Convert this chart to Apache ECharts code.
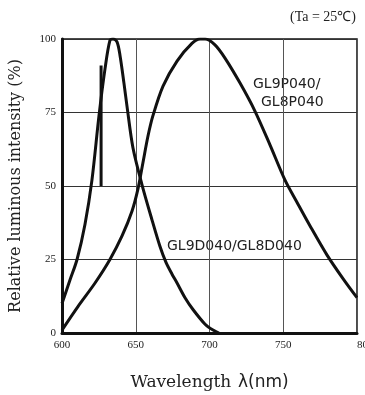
<!DOCTYPE html>
<html>
<head>
<meta charset="utf-8">
<script src="https://cdn.jsdelivr.net/npm/echarts@6/dist/echarts.min.js"></script>
<style>html,body{margin:0;padding:0;background:#fff;overflow:hidden;}#c{width:365px;height:395px;}</style>
</head>
<body>
<div id="c"></div>
<script>
// Wavelength ticks
var xTicks = [600, 650, 700, 750, 800];
var yTicks = [0, 25, 50, 75, 100];
// GL9D040/GL8D040 (narrow peak)
var wlD  = [600, 605.4, 610.2, 615.6, 620.3, 625.1, 629.2, 632.5, 634.6, 637.3, 639.3, 642, 644.1, 648.1, 654.2, 661, 666.4, 670.5, 674.6, 678, 683.4, 688.8, 697, 702.4, 706.4];
var valD = [10, 18, 25, 37, 52, 74, 90, 99.5, 100, 99, 94.5, 85, 77, 63, 50.5, 38.5, 29.5, 24, 20, 17, 12, 8, 3, 1, 0];
// GL9P040/GL8P040 (wide peak)
var wlP  = [600, 610.8, 622.4, 632.5, 640.7, 647.5, 651.5, 654.9, 658.3, 661.7, 668.5, 678, 688.1, 693.6, 697, 703.7, 710.5, 720.7, 730.8, 741, 751.2, 759.3, 768.1, 779.7, 790.5, 800];
var valP = [1, 9, 17, 25, 33, 41.5, 49, 58, 67, 74, 84, 92.5, 98.5, 100, 100, 98, 93.5, 85, 75.5, 64, 52, 44.5, 36.5, 26.5, 18.5, 12];
// Peak marker bar
var wlBar = [626.5, 626.5];
var valBar = [50, 91];

function zip(a, b) { return a.map(function (v, i) { return [v, b[i]]; }); }

var chart = echarts.init(document.getElementById('c'), null, {renderer: 'canvas'});
var serif = 'Liberation Serif';
chart.setOption({
  animation: false,
  backgroundColor: '#fff',
  title: {
    text: '(Ta = 25℃)', right: 4, top: 5,
    textStyle: {fontFamily: serif, fontSize: 14, fontWeight: 'normal', color: '#222'}
  },
  grid: {left: 62, right: 8, top: 39, bottom: 62, show: true, borderColor: '#111', borderWidth: 1.5,
         containLabel: false, outerBoundsMode: 'none'},
  xAxis: {
    type: 'value', min: xTicks[0], max: xTicks[xTicks.length - 1], interval: 50,
    name: '{a|Wavelength}  {b|λ(nm)}', nameLocation: 'middle', nameGap: 41,
    nameTextStyle: {
      rich: {
        a: {fontFamily: 'DejaVu Serif', fontSize: 17, color: '#222'},
        b: {fontFamily: 'DejaVu Sans', fontSize: 17, color: '#222'}
      }
    },
    axisLine: {lineStyle: {color: '#111', width: 3}},
    axisTick: {show: false},
    axisLabel: {fontFamily: serif, fontSize: 11, color: '#222', margin: 7, alignMaxLabel: 'left'},
    splitLine: {show: true, lineStyle: {color: '#555', width: 1}}
  },
  yAxis: {
    type: 'value', min: yTicks[0], max: yTicks[yTicks.length - 1], interval: 25,
    name: 'Relative luminous intensity (%)', nameLocation: 'middle', nameGap: 38,
    nameTextStyle: {fontFamily: 'DejaVu Serif', fontSize: 16, color: '#222'},
    axisLine: {lineStyle: {color: '#111', width: 3}},
    axisTick: {show: false},
    axisLabel: {fontFamily: serif, fontSize: 11, color: '#222', margin: 6},
    splitLine: {show: true, lineStyle: {color: '#333', width: 1}}
  },
  series: [
    {type: 'line', name: 'GL9D040/GL8D040', data: zip(wlD, valD), smooth: 0.3, showSymbol: false,
     lineStyle: {color: '#111', width: 3}, clip: true},
    {type: 'line', name: 'GL9P040/GL8P040', data: zip(wlP, valP), smooth: 0.3, showSymbol: false,
     lineStyle: {color: '#111', width: 3}, clip: true},
    {type: 'line', name: 'marker', data: zip(wlBar, valBar), showSymbol: false,
     lineStyle: {color: '#111', width: 3}}
  ],
  graphic: [
    {type: 'text', left: 253, top: 77, style: {text: 'GL9P040/', font: '14px "DejaVu Sans"', fill: '#222'}},
    {type: 'text', left: 261, top: 95, style: {text: 'GL8P040', font: '14px "DejaVu Sans"', fill: '#222'}},
    {type: 'text', left: 167, top: 239, style: {text: 'GL9D040/GL8D040', font: '14px "DejaVu Sans"', fill: '#222'}}
  ]
});
</script>
</body>
</html>
